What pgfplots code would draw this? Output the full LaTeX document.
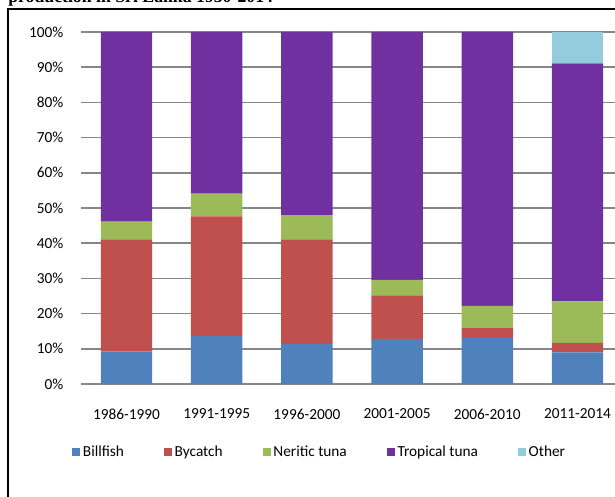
\documentclass[border=0pt]{standalone}
\usepackage{pgfplots}
\pgfplotsset{compat=1.18}
\usepackage{fontspec}
\setmainfont{Carlito}
\newfontfamily\titlefont{Liberation Serif}
\definecolor{cBill}{HTML}{4F81BD}
\definecolor{cBy}{HTML}{C0504D}
\definecolor{cNer}{HTML}{9BBB59}
\definecolor{cTrop}{HTML}{7030A0}
\definecolor{cOth}{HTML}{93CDDD}
\definecolor{gridc}{HTML}{868686}
\begin{document}
\begin{tikzpicture}
\useasboundingbox (0,0) rectangle (461.25pt,372.75pt);
\fill[white] (0,0) rectangle (461.25pt,372.75pt);
\draw[black, line width=1.6pt] (6pt,-10pt) rectangle (475pt,366.3pt);
\node[anchor=base west, inner sep=0pt, font=\titlefont\bfseries\fontsize{13.3}{15}\selectfont] at (6pt,370.5pt) {production in Sri Lanka 1950-2014};
\begin{axis}[
  at={(61.05pt,84.75pt)}, anchor=south west,
  scale only axis, width=405.9pt, height=264pt,
  ybar stacked, bar width=38.6pt,
  xmin=-0.5, xmax=5.5, ymin=0, ymax=100,
  xtick={0,1,2,3,4,5},
  xticklabels={1986-1990,1991-1995,1996-2000,2001-2005,2006-2010,2011-2014},
  ytick={0,10,20,30,40,50,60,70,80,90,100},
  yticklabels={0\%,10\%,20\%,30\%,40\%,50\%,60\%,70\%,80\%,90\%,100\%},
  ymajorgrids, major grid style={gridc, line width=1.1pt},
  axis line style={draw=none}, tick style={draw=none},
  ticklabel style={font=\fontsize{11.5}{13}\selectfont},
  xticklabel style={yshift=-15pt},
  yticklabel style={xshift=-10pt},
  clip=false,
  legend style={at={(0.4409,-0.1932)}, anchor=center, draw=none, fill=none,
    legend columns=5, font=\fontsize{11.5}{13}\selectfont,
    /tikz/every even column/.append style={column sep=28pt}},
  legend image code/.code={\fill[#1] (0pt,-3pt) rectangle (6pt,3pt);},
  legend cell align=left,
]
\addplot[fill=cBill, draw=none] coordinates {(0,9.3) (1,13.7) (2,11.4) (3,12.8) (4,13.1) (5,9.0)};
\addplot[fill=cBy, draw=none] coordinates {(0,31.8) (1,33.9) (2,29.7) (3,12.4) (4,2.9) (5,2.7)};
\addplot[fill=cNer, draw=none] coordinates {(0,5.0) (1,6.5) (2,6.9) (3,4.4) (4,6.2) (5,11.8)};
\addplot[fill=cTrop, draw=none] coordinates {(0,53.9) (1,45.9) (2,52.0) (3,70.4) (4,77.8) (5,67.6)};
\addplot[fill=cOth, draw=none] coordinates {(0,0) (1,0) (2,0) (3,0) (4,0) (5,8.9)};
\legend{Billfish,Bycatch,Neritic tuna,Tropical tuna,Other}
\end{axis}
\end{tikzpicture}
\end{document}
